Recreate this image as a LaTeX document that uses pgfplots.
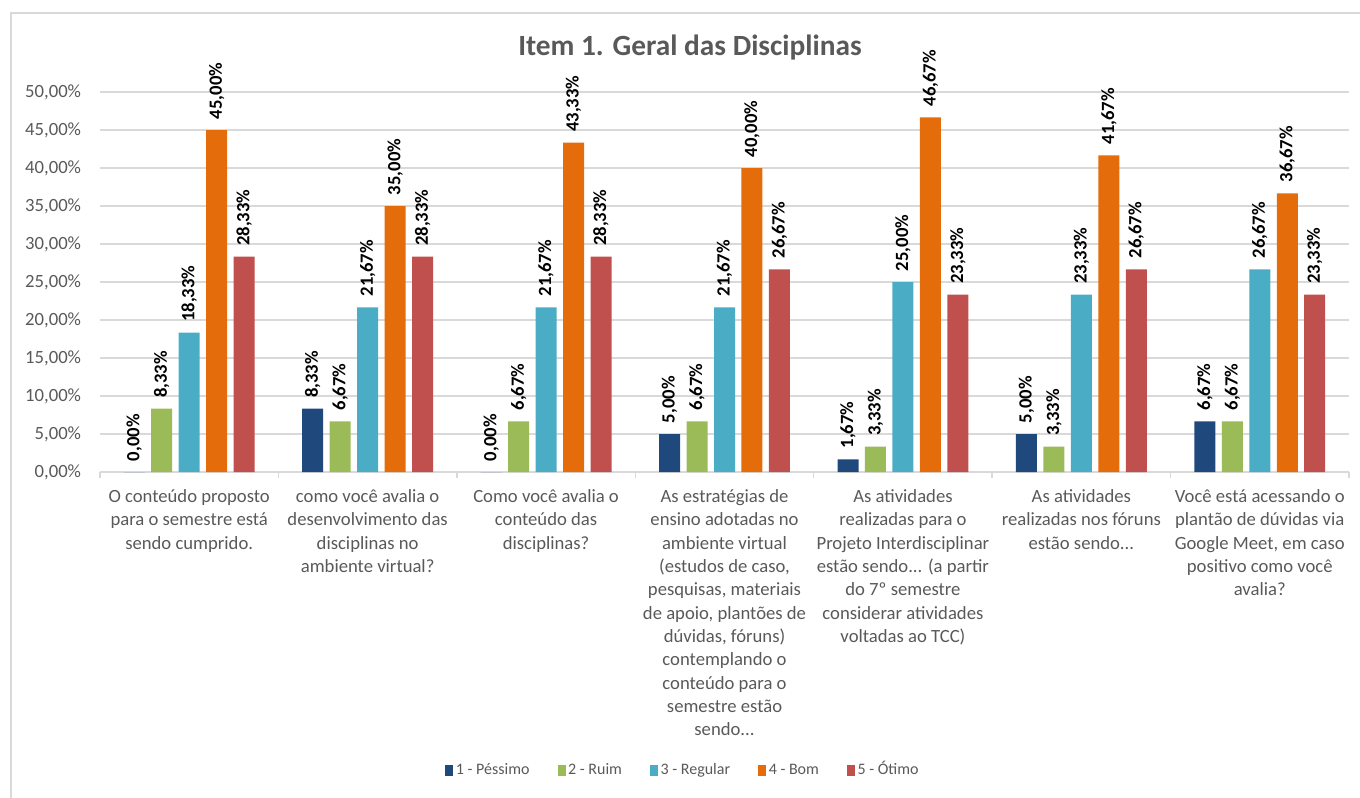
\documentclass[border=0pt]{standalone}
\usepackage{pgfplots}
\pgfplotsset{compat=1.18}
\usepackage{pgfplotstable}
\usepackage{fontspec}
\setmainfont{Carlito}

\definecolor{txtgray}{HTML}{595959}
\definecolor{gridgray}{HTML}{D9D9D9}
\definecolor{c1}{HTML}{1F497D}
\definecolor{c2}{HTML}{9BBB59}
\definecolor{c3}{HTML}{4BACC6}
\definecolor{c4}{HTML}{E46C0A}
\definecolor{c5}{HTML}{C0504D}

% categories at 0..6, series = rating 1..5 (percent)
\pgfplotstableread{
x  p1    p2    p3     p4     p5
0  0     8.33  18.33  45.00  28.33
1  8.33  6.67  21.67  35.00  28.33
2  0     6.67  21.67  43.33  28.33
3  5.00  6.67  21.67  40.00  26.67
4  1.67  3.33  25.00  46.67  23.33
5  5.00  3.33  23.33  41.67  26.67
6  6.67  6.67  26.67  36.67  23.33
}\itemdata

\newcommand{\dd}{.\kern0pt.\kern0pt.}

\begin{document}
\begin{tikzpicture}
\useasboundingbox (0,0) rectangle (1020pt,-598.5pt);
\draw[gridgray, line width=1.2pt] (8.25pt,-598.5pt) -- (8.25pt,-9.75pt) -- (1020pt,-9.75pt);
\node[font=\bfseries\fontsize{22}{26}\selectfont, text=txtgray] at (517.5pt,-36pt) {Item 1. Geral das Disciplinas};
\begin{axis}[
    at={(75pt,-354pt)}, anchor=south west,
    scale only axis,
    width=936.75pt, height=285pt,
    ybar=4.85pt, bar width=15.75pt,
    xmin=-0.5, xmax=6.5, ymin=0, ymax=50,
    enlargelimits=false, clip=false,
    /pgf/number format/assume math mode=true,
    axis x line*=bottom, axis y line*=left,
    y axis line style={draw=none},
    x axis line style={gridgray, line width=1pt},
    ytick={0,5,10,15,20,25,30,35,40,45,50},
    yticklabel={\pgfmathprintnumber[fixed,fixed zerofill,precision=2,use comma]{\tick}\%},
    yticklabel style={font=\fontsize{14}{17}\selectfont, text=txtgray, inner sep=0pt, xshift=-14pt},
    ymajorgrids, grid style={gridgray, line width=1pt},
    major tick length=0pt,
    ytick style={draw=none},
    xtick=data,
    minor xtick={-0.5,0.5,1.5,2.5,3.5,4.5,5.5,6.5},
    minor tick length=4.5pt, tick align=outside,
    minor x tick style={gridgray, line width=1pt},
    xticklabels={
      {O conteúdo proposto\\para o semestre está\\sendo cumprido.},
      {como você avalia o\\desenvolvimento das\\disciplinas no\\ambiente virtual?},
      {Como você avalia o\\conteúdo das\\disciplinas?},
      {As estratégias de\\ensino adotadas no\\ambiente virtual\\(estudos de caso,\\pesquisas, materiais\\de apoio, plantões de\\dúvidas, fóruns)\\contemplando o\\conteúdo para o\\semestre estão\\sendo\dd},
      {As atividades\\realizadas para o\\Projeto Interdisciplinar\\estão sendo\dd{} (a partir\\do 7º semestre\\considerar atividades\\voltadas ao TCC)},
      {As atividades\\realizadas nos fóruns\\estão sendo\dd},
      {Você está acessando o\\plantão de dúvidas via\\Google Meet, em caso\\positivo como você\\avalia?}
    },
    xticklabel style={font=\fontsize{14}{17.5}\selectfont, text=txtgray, align=center, anchor=north, inner sep=0pt, yshift=-13pt},
    nodes near coords={\pgfmathprintnumber[fixed,fixed zerofill,precision=2,use comma]{\pgfplotspointmeta}\%},
    every node near coord/.append style={rotate=90, anchor=west, font=\bfseries\fontsize{14}{17}\selectfont, text=black, inner xsep=8pt, inner ysep=0pt},
    legend columns=-1,
    legend style={at={(0.467,-0.787)}, anchor=center, draw=none, fill=none,
      font=\fontsize{12}{14}\selectfont, text=txtgray,
      /tikz/every even column/.append style={column sep=19pt},
      nodes={inner sep=2pt, text height=0.75em, text depth=0.25em}},
    legend image code/.code={\fill[#1] (0pt,-3.5pt) rectangle (6pt,4.5pt);},
]
\addplot[fill=c1, draw=none] table[x=x, y=p1] {\itemdata};
\addlegendentry{1 - Péssimo}
\addplot[fill=c2, draw=none] table[x=x, y=p2] {\itemdata};
\addlegendentry{2 - Ruim}
\addplot[fill=c3, draw=none] table[x=x, y=p3] {\itemdata};
\addlegendentry{3 - Regular}
\addplot[fill=c4, draw=none] table[x=x, y=p4] {\itemdata};
\addlegendentry{4 - Bom}
\addplot[fill=c5, draw=none] table[x=x, y=p5] {\itemdata};
\addlegendentry{5 - Ótimo}
\end{axis}
\end{tikzpicture}
\end{document}
